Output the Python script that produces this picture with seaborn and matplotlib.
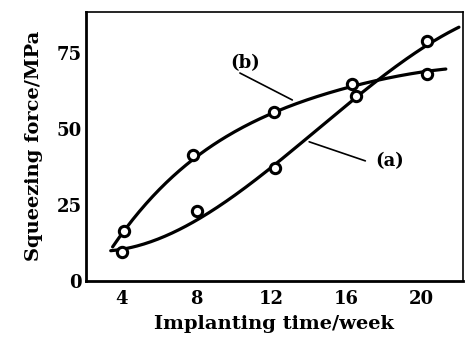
import numpy as np
import pandas as pd
import matplotlib.pyplot as plt
import seaborn as sns

weeks_a = [4.0, 8.0, 12.2, 16.5, 20.3]
force_a = [9.5, 22.8, 37.0, 61.0, 79.0]
weeks_b = [4.1, 7.8, 12.1, 16.3, 20.3]
force_b = [16.2, 41.5, 55.5, 65.0, 68.2]

# fitted curves
curve_a_x = [3.4, 4, 6, 8, 10, 12, 14, 16, 17, 18, 20, 22]
curve_a_y = [9.0, 10.3, 15.0, 21.0, 28.0, 36.5, 46.0, 57.0, 63.5, 69.5, 77.5, 82.5]
curve_b_x = [3.5, 4, 5, 6, 8, 10, 12, 14, 16, 18, 20, 21.3]
curve_b_y = [11.0, 15.5, 23.5, 30.0, 41.0, 49.0, 55.0, 59.8, 64.0, 66.5, 68.5, 70.0]

xticks = [4, 8, 12, 16, 20]
yticks = [0, 25, 50, 75]

sns.set_style("white")
plt.rcParams['font.family'] = ['DejaVu Serif']
plt.rcParams['text.color'] = 'black'
plt.rcParams['axes.labelcolor'] = 'black'
plt.rcParams['xtick.color'] = 'black'
plt.rcParams['ytick.color'] = 'black'

fig, ax = plt.subplots(figsize=(4.65, 3.38), dpi=100)

for cx, cy, deg in [(curve_a_x, curve_a_y, 3), (curve_b_x, curve_b_y, 4)]:
    # smooth the traced curve with a polynomial fit
    coef = np.polyfit(cx, cy, deg)
    xs = np.linspace(cx[0], cx[-1], 200)
    sns.lineplot(x=xs, y=np.polyval(coef, xs), ax=ax, color='black', lw=2.3)

pts = pd.DataFrame({"week": weeks_a + weeks_b, "force": force_a + force_b})
sns.scatterplot(data=pts, x="week", y="force", ax=ax, marker='o', s=55,
                facecolor='white', edgecolor='black', linewidth=2.2, zorder=5)

# labels with leader lines
ax.plot([10.3, 13.1], [68.5, 59.6], color='black', lw=1.2)
ax.text(10.6, 71.8, "(b)", fontsize=13, fontweight='bold', ha='center', va='center')
ax.plot([17.0, 14.0], [39.5, 45.8], color='black', lw=1.2)
ax.text(18.3, 39.5, "(a)", fontsize=13, fontweight='bold', ha='center', va='center')

ax.set_xlim(2.08, 22.2)
ax.set_ylim(0, 88.7)
ax.set_xticks(xticks)
ax.set_yticks(yticks)
ax.tick_params(direction='in', length=4, width=1.2, labelsize=13)
ax.tick_params(axis='x', pad=7)
ax.tick_params(axis='y', pad=3)
for lab in ax.get_xticklabels() + ax.get_yticklabels():
    lab.set_fontweight('bold')
ax.set_xlabel("Implanting time/week", fontsize=14, fontweight='bold', labelpad=5)
ax.set_ylabel("Squeezing force/MPa", fontsize=14, fontweight='bold', labelpad=10)

for side in ['left', 'bottom']:
    ax.spines[side].set_linewidth(2)
for side in ['top', 'right']:
    ax.spines[side].set_linewidth(1.2)
for s in ax.spines.values():
    s.set_color('black')

plt.subplots_adjust(left=0.185, right=0.995, top=0.965, bottom=0.17)
plt.savefig("out.png")
plt.close()
